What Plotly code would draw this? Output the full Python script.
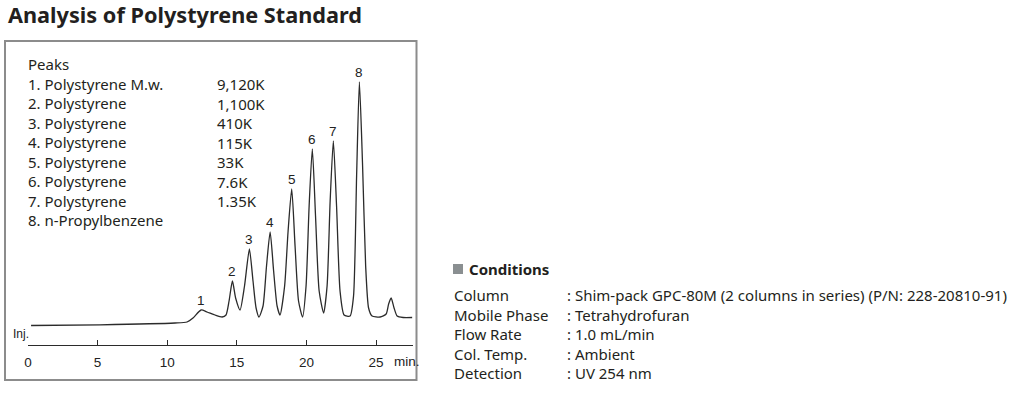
import plotly.graph_objects as go

# ---------------- data ----------------
trace_time = [0.22, 5.17, 10.56, 11.42, 11.85, 12.43, 12.86, 13.43, 13.94,
              14.22, 14.44, 14.68, 14.91, 15.23,
              15.55, 15.90, 16.16, 16.38, 16.59,
              16.88, 17.13, 17.39, 17.64, 17.89, 18.10,
              18.43, 18.68, 18.94, 19.18, 19.43, 19.72,
              19.97, 20.19, 20.42, 20.65, 20.91, 21.23,
              21.48, 21.70, 21.93, 22.16, 22.41, 22.70, 23.13,
              23.38, 23.60, 23.80, 24.03, 24.25, 24.46, 24.71, 25.29,
              25.72, 25.90, 26.08, 26.29, 26.51, 26.94, 27.59]
trace_signal = [0.5, 1.2, 3, 4, 8, 16, 14, 11, 9,
                11, 25, 45, 28, 16,
                40, 77, 45, 18, 9,
                20, 60, 94, 55, 20, 11,
                40, 95, 137, 80, 25, 9,
                40, 120, 177, 110, 35, 13,
                40, 125, 185, 120, 35, 11, 10,
                30, 150, 244, 160, 60, 18, 10, 9,
                12, 22, 28, 18, 10, 8.5, 8.5]

peak_numbers = ["1", "2", "3", "4", "5", "6", "7", "8"]
peak_times = [12.43, 14.68, 15.90, 17.39, 18.94, 20.42, 21.93, 23.80]
peak_heights = [16, 45, 77, 94, 137, 177, 185, 244]

peak_names = ["1. Polystyrene M.w.", "2. Polystyrene", "3. Polystyrene",
              "4. Polystyrene", "5. Polystyrene", "6. Polystyrene",
              "7. Polystyrene", "8. n-Propylbenzene"]
peak_mw = ["9,120K", "1,100K", "410K", "115K", "33K", "7.6K", "1.35K"]

tick_values = [0, 5, 10, 15, 20, 25]
tick_labels = ["0", "5", "10", "15", "20", "25"]

cond_labels = ["Column", "Mobile Phase", "Flow Rate", "Col. Temp.", "Detection"]
cond_values = [": Shim-pack GPC-80M (2 columns in series) (P/N: 228-20810-91)",
               ": Tetrahydrofuran", ": 1.0 mL/min", ": Ambient", ": UV 254 nm"]

# ---------------- layout helpers (screen pixels) ----------------
W, H = 1026, 393
SL, ST, SR, SB = 28, 50, 413, 345   # plot area on screen
PW, PH = SR - SL, SB - ST


def px(x):
    return (x - SL) / PW


def py(y):
    return (SB - y) / PH


TXT = "#231f20"
SANS = "Noto Sans, Open Sans, sans-serif"
HELV = "Liberation Sans, Arial, sans-serif"
FS = 15

fig = go.Figure()
fig.add_trace(go.Scatter(x=trace_time, y=trace_signal, mode="lines",
                         line=dict(color="#2b2b2b", width=1.3, shape="spline", smoothing=0.6),
                         hoverinfo="skip", showlegend=False))

ann = []
for n, t, h in zip(peak_numbers, peak_times, peak_heights):
    ann.append(dict(x=t, y=h, xref="x", yref="y", text=n, showarrow=False,
                    yshift=10, font=dict(family=HELV, size=13.5, color="#222")))


def block(x, y_center, lines):
    return dict(x=px(x), y=py(y_center), xref="paper", yref="paper",
                text="<br>".join(lines), showarrow=False, align="left",
                xanchor="left", yanchor="middle",
                font=dict(family=SANS, size=FS, color=TXT))


# Peaks list (lines 19.5 px apart, both blocks centred on the same row)
ann.append(block(26, 142, ["Peaks"] + peak_names))
ann.append(block(215, 142, peak_mw))

# axis extras
ann.append(dict(x=px(11), y=py(334), xref="paper", yref="paper", text="Inj.",
                showarrow=False, xanchor="left", yanchor="middle",
                font=dict(family=HELV, size=12, color="#222")))
ann.append(dict(x=px(392), y=py(361), xref="paper", yref="paper", text="min.",
                showarrow=False, xanchor="left", yanchor="middle",
                font=dict(family=HELV, size=13.5, color="#222")))

# Conditions
ann.append(dict(x=px(467), y=py(269), xref="paper", yref="paper", text="<b>Conditions</b>",
                showarrow=False, xanchor="left", yanchor="middle",
                font=dict(family=SANS, size=FS, color=TXT)))
ann.append(block(452, 334, cond_labels))
ann.append(block(565, 334, cond_values))

shapes = [
    dict(type="rect", xref="paper", yref="paper", x0=px(5), x1=px(416.5), y0=py(380), y1=py(41),
         line=dict(color="#8c8c8c", width=2), fillcolor="rgba(0,0,0,0)", layer="below"),
    dict(type="rect", xref="paper", yref="paper", x0=px(453), x1=px(463), y0=py(274), y1=py(264),
         line=dict(width=0), fillcolor="#8a8f91"),
]

fig.update_layout(
    width=W, height=H,
    margin=dict(l=SL, r=W - SR, t=ST, b=H - SB),
    paper_bgcolor="white", plot_bgcolor="white",
    title=dict(text="<b>Analysis of Polystyrene Standard</b>", xref="container", yref="container",
               x=8 / W, y=1 - 15 / H, xanchor="left", yanchor="middle",
               font=dict(family=SANS, size=21.7, color=TXT)),
    xaxis=dict(range=[0, 27.65], showgrid=False, zeroline=False, showline=True,
               linecolor="#2b2b2b", linewidth=1.3, ticks="inside", ticklen=5, tickwidth=1.2,
               tickcolor="#2b2b2b", tickvals=tick_values, ticktext=tick_labels,
               ticklabelstandoff=4,
               tickfont=dict(family=HELV, size=13.5, color="#222"), fixedrange=True),
    # 1 signal unit = 1 pixel, baseline (signal 0) at screen y 326
    yaxis=dict(range=[326 - SB, 326 - ST], visible=False, fixedrange=True),
    annotations=ann, shapes=shapes, showlegend=False,
)

fig.write_html("out.html",
               config={"displayModeBar": False, "staticPlot": True},
               post_script="document.body.style.margin='0';document.body.style.overflow='hidden';")
